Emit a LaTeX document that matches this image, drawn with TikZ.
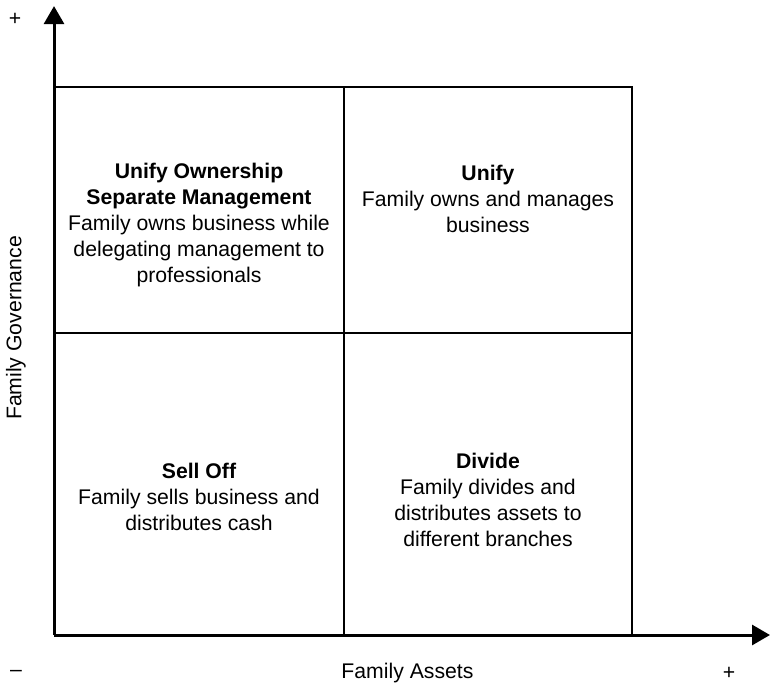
\documentclass[tikz,border=0pt]{standalone}
\usepackage{fontspec}
\setmainfont{Liberation Sans}
\usetikzlibrary{arrows.meta, positioning, calc}

\tikzset{
  axis/.style={line width=1.5pt, -{Triangle[width=10pt,length=9pt]}},
  grid line/.style={line width=0.75pt},
  celltext/.style={align=center, font=\fontsize{10.6}{13}\selectfont, inner sep=0pt},
  axislabel/.style={font=\fontsize{10.6}{13}\selectfont, inner sep=0pt}
}

\begin{document}
\begin{tikzpicture}
\useasboundingbox (-0.949,-0.861) rectangle (12.58,11.157);
% corner points of the matrix
\coordinate (O) at (0,0);
\coordinate (xmax) at (12.58,0);
\coordinate (ymax) at (0,11.05);
\coordinate (tl) at (0,9.629);
\coordinate (tm) at (5.096,9.629);
\coordinate (tr) at (10.156,9.629);
\coordinate (ml) at (0,5.306);
\coordinate (mr) at (10.156,5.306);
\coordinate (bm) at (5.096,0);
\coordinate (br) at (10.156,0);
% cells
\draw[grid line] (tl) -- (tr) -- (br);
\draw[grid line] (tm) -- (bm);
\draw[grid line] (ml) -- (mr);
% axes
\draw[axis] (O) -- (ymax);
\draw[axis] (O) -- (xmax);
% quadrant texts
\node[celltext] (sep) at (2.548,7.204) {\textbf{Unify Ownership}\\\textbf{Separate Management}\\Family owns business while\\delegating management to\\professionals};
\node[celltext] (unify) at (7.625,7.66) {\textbf{Unify}\\Family owns and manages\\business};
\node[celltext] (sell) at (2.548,2.425) {\textbf{Sell Off}\\Family sells business and\\distributes cash};
\node[celltext] (divide) at (7.625,2.372) {\textbf{Divide}\\Family divides and\\distributes assets to\\different branches};
% axis labels
\node[axislabel] (gov) at (-0.668,5.394) {\rotatebox{90}{Family Governance}};
\node[axislabel] (assets) at (6.21,-0.668) {Family Assets};
\node[axislabel] (yplus) at (-0.685,10.82) {+};
\node[axislabel] (xminus) at (-0.668,-0.668) {\textendash};
\node[axislabel] (xplus) at (11.86,-0.668) {+};
\end{tikzpicture}
\end{document}
